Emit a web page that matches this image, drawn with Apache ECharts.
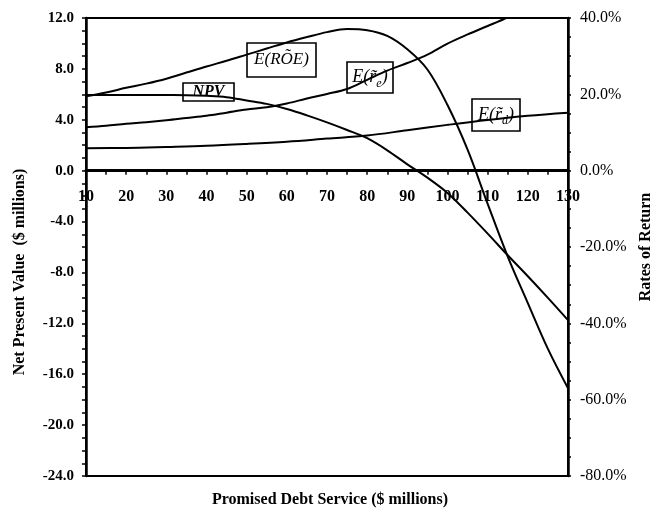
<!DOCTYPE html>
<html>
<head>
<meta charset="utf-8">
<script src="https://cdn.jsdelivr.net/npm/echarts@6/dist/echarts.min.js"></script>
<style>
  html, body { margin: 0; padding: 0; background: #fff; }
  #chart { width: 658px; height: 512px; }
</style>
</head>
<body>
<div id="chart"></div>
<script>
// Promised debt service ($ millions)
const debtService = [10, 15, 20, 25, 30, 35, 40, 45, 50, 55, 60, 65, 70, 75, 80, 85, 90, 95, 100, 105, 110, 115, 120, 125, 130];

// Net present value ($ millions), left axis
const npv = [5.95, 5.95, 5.95, 5.95, 5.94, 5.93, 5.88, 5.78, 5.52, 5.25, 4.85, 4.35, 3.80, 3.20, 2.55, 1.60, 0.50, -0.55, -1.75, -3.30, -4.95, -6.65, -8.30, -10.00, -11.75];

// Expected return on equity (%), right axis
const expROE = [19.5, 20.5, 21.7, 22.8, 24.1, 25.7, 27.3, 28.8, 30.4, 32.0, 33.6, 35.0, 36.3, 37.1, 36.8, 35.3, 31.8, 26.5, 17.2, 5.5, -8.7, -22.5, -34.7, -46.7, -57.0];

// Expected return on equity r_e (%), right axis
const expRe = [11.4, 11.8, 12.3, 12.7, 13.2, 13.8, 14.4, 15.2, 16.0, 16.6, 17.6, 18.9, 20.1, 21.4, 23.8, 26.2, 28.2, 30.4, 33.3, 35.7, 37.9, 40.2, 43.0];

// Expected return on debt r_d (%), right axis
const debtServiceCoarse = [10, 20, 30, 40, 50, 60, 70, 80, 90, 100, 110, 120, 130];
const expRd = [5.9, 5.95, 6.2, 6.5, 7.0, 7.6, 8.4, 9.2, 10.6, 12.0, 13.3, 14.4, 15.2];

// Left axis range ($ millions) and right axis range (%)
const npvRange = [-24, 12];
const rateRange = [-80, 40];

const SERIF = 'Liberation Serif, Times New Roman, serif';

const GRID = { left: 86, right: 90, top: 18, bottom: 36 };
const W = 658, H = 512;
// the debt-service axis sits on the NPV = 0 line
const plotH = H - GRID.top - GRID.bottom;
const zeroFromBottom = plotH * (0 - npvRange[0]) / (npvRange[1] - npvRange[0]);

const chart = echarts.init(document.getElementById('chart'));

function pairs(xs, ys) {
  return ys.map((y, i) => [xs[i], y]);
}

function curve(name, data, yAxisIndex) {
  return {
    name, type: 'line', data, yAxisIndex,
    smooth: 0.35, showSymbol: false, symbol: 'none', clip: true,
    lineStyle: { color: '#000', width: 2 }, z: 3
  };
}

// Boxed curve annotation
function tag(x, y, w, h, text, rich) {
  return {
    type: 'group', z: 20,
    children: [
      { type: 'rect', shape: { x, y, width: w, height: h },
        style: { fill: '#fff', stroke: '#000', lineWidth: 1.6 } },
      { type: 'text', x: x + w / 2, y: y + h / 2,
        style: { text, rich, textAlign: 'center', textVerticalAlign: 'middle',
                 font: 'italic 17px ' + SERIF, fill: '#000' } }
    ]
  };
}

const richTilde = {
  a: { fontFamily: SERIF, fontStyle: 'italic', fontSize: 18, lineHeight: 24, color: '#000' },
  b: { fontFamily: SERIF, fontStyle: 'italic', fontSize: 18, lineHeight: 24, color: '#000' },
  s: { fontFamily: SERIF, fontStyle: 'italic', fontSize: 12, lineHeight: 12, verticalAlign: 'bottom', color: '#000' }
};

chart.setOption({
  backgroundColor: '#fff',
  animation: false,
  grid: Object.assign({ show: true, borderColor: '#000', borderWidth: 2, containLabel: false, outerBoundsMode: 'none' }, GRID),
  xAxis: {
    type: 'value', min: 10, max: 130, interval: 10,
    position: 'bottom', offset: -zeroFromBottom,
    axisLine: { onZero: false, lineStyle: { color: '#000', width: 3 } },
    axisTick: { show: true, length: 4, lineStyle: { color: '#000', width: 1.5 } },
    minorTick: { show: true, splitNumber: 2, length: 4, lineStyle: { color: '#000', width: 1.5 } },
    splitLine: { show: false },
    axisLabel: { color: '#000', fontFamily: SERIF, fontWeight: 'bold', fontSize: 16, margin: 18 }
  },
  yAxis: [
    {
      type: 'value', min: npvRange[0], max: npvRange[1], interval: 4, position: 'left',
      axisLine: { show: true, onZero: false, lineStyle: { color: '#000', width: 2.5 } },
      axisTick: { show: true, length: 4, lineStyle: { color: '#000', width: 1.5 } },
      minorTick: { show: true, splitNumber: 4, length: 4, lineStyle: { color: '#000', width: 1.5 } },
      splitLine: { show: false },
      axisLabel: { color: '#000', fontFamily: SERIF, fontWeight: 'bold', fontSize: 15, margin: 12,
                   formatter: v => v.toFixed(1) }
    },
    {
      type: 'value', min: rateRange[0], max: rateRange[1], interval: 20, position: 'right',
      name: 'Rates of Return', nameLocation: 'middle', nameRotate: 90, nameGap: 68,
      nameTextStyle: { color: '#000', fontFamily: SERIF, fontWeight: 'bold', fontSize: 16 },
      axisLine: { show: true, onZero: false, lineStyle: { color: '#000', width: 2.5 } },
      axisTick: { show: true, length: 3, lineStyle: { color: '#000', width: 1.5 } },
      minorTick: { show: true, splitNumber: 4, length: 3, lineStyle: { color: '#000', width: 1.5 } },
      splitLine: { show: false },
      axisLabel: { color: '#000', fontFamily: SERIF, fontSize: 16, margin: 12,
                   formatter: v => v.toFixed(1) + '%' }
    }
  ],
  series: [
    curve('NPV', pairs(debtService, npv), 0),
    curve('E(ROE)', pairs(debtService, expROE), 1),
    curve('E(re)', pairs(debtService, expRe), 1),
    curve('E(rd)', pairs(debtServiceCoarse, expRd), 1)
  ],
  graphic: [
    { type: 'text', x: 20, y: 272, rotation: Math.PI / 2, z: 10,
      style: { text: 'Net Present Value  ($ millions)', font: 'bold 16px ' + SERIF,
               textAlign: 'center', textVerticalAlign: 'middle', fill: '#000' } },
    { type: 'text', x: 330, y: 500, z: 10,
      style: { text: 'Promised Debt Service ($ millions)', font: 'bold 16px ' + SERIF,
               textAlign: 'center', textVerticalAlign: 'middle', fill: '#000' } },
    tag(247, 43, 69, 34, 'E(R\u00D5E)'),
    tag(183, 83, 51, 18, '{n|NPV}', { n: { fontFamily: SERIF, fontStyle: 'italic', fontWeight: 'bold', fontSize: 16, color: '#000' } }),
    tag(347, 62, 46, 31, '{a|E(}{b|r\u0303}{s|e}{a|)}', richTilde),
    tag(472, 99, 48, 32, '{a|E(}{b|r\u0303}{s|d}{a|)}', richTilde)
  ]
});
</script>
</body>
</html>
